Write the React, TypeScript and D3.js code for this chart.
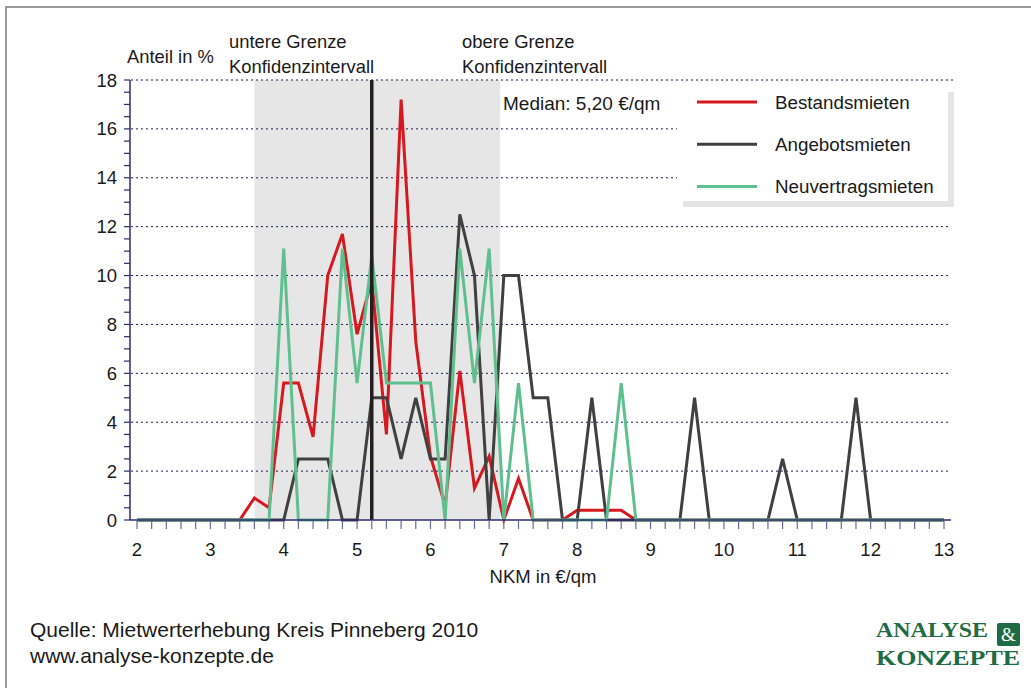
import React from "react";
import * as d3 from "d3";

// NKM-Klassen in 0,2 €-Schritten von 2 bis 13
const nkmSteps = d3.range(0, 56).map(i => +(2 + i * 0.2).toFixed(1));

// Anteil in % je Klasse
const bestandsmieten = [
  0, 0, 0, 0, 0, 0, 0, 0, 0.9, 0.5,
  5.6, 5.6, 3.4, 10.0, 11.7, 7.6, 9.8, 3.5, 17.2, 7.3,
  2.6, 0.6, 6.1, 1.3, 2.6, 0, 1.7, 0, 0, 0,
  0.4, 0.4, 0.4, 0.4, 0, 0, 0, 0, 0, 0,
  0, 0, 0, 0, 0, 0, 0, 0, 0, 0,
  0, 0, 0, 0, 0, 0
];
const angebotsmieten = [
  0, 0, 0, 0, 0, 0, 0, 0, 0, 0,
  0, 2.5, 2.5, 2.5, 0, 0, 5.0, 5.0, 2.5, 5.0,
  2.5, 2.5, 12.5, 10.0, 0, 10.0, 10.0, 5.0, 5.0, 0,
  0, 5.0, 0, 0, 0, 0, 0, 0, 5.0, 0,
  0, 0, 0, 0, 2.5, 0, 0, 0, 0, 5.0,
  0, 0, 0, 0, 0, 0
];
const neuvertragsmieten = [
  0, 0, 0, 0, 0, 0, 0, 0, 0, 0,
  11.1, 0, 0, 0, 11.1, 5.6, 10.8, 5.6, 5.6, 5.6,
  5.6, 0, 11.1, 5.6, 11.1, 0, 5.6, 0, 0, 0,
  0, 0, 0, 5.6, 0, 0, 0, 0, 0, 0,
  0, 0, 0, 0, 0, 0, 0, 0, 0, 0,
  0, 0, 0, 0, 0, 0
];

const seriesNames = ["Bestandsmieten", "Angebotsmieten", "Neuvertragsmieten"];
const seriesColors = ["#d7191f", "#404040", "#5fbf8f"];
const xTickLabels = d3.range(2, 14);
const yTickLabels = d3.range(0, 20, 2);

const median = 5.2;
const konfidenz = [3.6, 6.95];

const FONT = "'Liberation Sans', Arial, sans-serif";

export default function App() {
  const width = 1031;
  const height = 688;

  const x = d3.scaleLinear().domain([2, 13]).range([137, 944]);
  const y = d3.scaleLinear().domain([0, 18]).range([520, 80]);

  const line = d3
    .line<number>()
    .x((d, i) => x(nkmSteps[i]))
    .y(d => y(d));

  const allSeries = [bestandsmieten, angebotsmieten, neuvertragsmieten];
  const axisColor = "#2b2b6e";

  return (
    <svg
      width={width}
      height={height}
      style={{ position: "absolute", left: 0, top: 0, background: "#fff" }}
      fontFamily={FONT}
    >
      {/* Rahmen */}
      <path d={`M6,${height} L6,7 L${width},7`} fill="none" stroke="#9a9a9a" strokeWidth={2} />

      {/* Konfidenzintervall */}
      <rect
        x={x(konfidenz[0])}
        y={y(18)}
        width={x(konfidenz[1]) - x(konfidenz[0])}
        height={y(0) - y(18)}
        fill="#e5e6e5"
      />

      {/* Gitterlinien */}
      {yTickLabels.filter(v => v > 0).map(v => (
        <line
          key={"g" + v}
          x1={131}
          x2={v === 18 ? 955 : 950}
          y1={y(v)}
          y2={y(v)}
          stroke="#1b1b55"
          strokeWidth={1}
          strokeDasharray="2,3"
        />
      ))}

      {/* Legende */}
      <rect x={683} y={92} width={271} height={115} fill="#e4e4e4" />
      <rect x={677} y={86} width={271} height={115} fill="#fff" />

      {/* Linien */}
      {allSeries.map((s, k) => (
        <path
          key={seriesNames[k]}
          d={line(s) || ""}
          fill="none"
          stroke={seriesColors[k]}
          strokeWidth={3}
          strokeLinejoin="miter"
        />
      ))}

      {/* Median */}
      <line x1={x(median)} x2={x(median)} y1={y(18)} y2={y(0)} stroke="#231f20" strokeWidth={3.5} />

      {/* Achsen */}
      <line x1={130} x2={951} y1={y(0)} y2={y(0)} stroke={axisColor} strokeWidth={1.5} />
      <line x1={130} x2={130} y1={y(18)} y2={y(0)} stroke={axisColor} strokeWidth={1.5} />
      {nkmSteps.map(v => (
        <line key={"xt" + v} x1={x(v)} x2={x(v)} y1={y(0) + 1} y2={y(0) + 9} stroke="#6a6a9e" strokeWidth={1.2} />
      ))}
      {d3.range(0, 18.5, 0.5).map(v => (
        <line key={"yt" + v} x1={124} x2={130} y1={y(v)} y2={y(v)} stroke={axisColor} strokeWidth={1.2} />
      ))}
      {xTickLabels.map(v => (
        <text key={"xl" + v} x={x(v)} y={556} fontSize={18.5} textAnchor="middle" fill="#1a1a1a">
          {v}
        </text>
      ))}
      {yTickLabels.map(v => (
        <text key={"yl" + v} x={117} y={y(v) + 6.5} fontSize={18.5} textAnchor="end" fill="#1a1a1a">
          {v}
        </text>
      ))}
      <text x={543} y={583} fontSize={18.5} textAnchor="middle" fill="#1a1a1a">NKM in €/qm</text>

      {/* Beschriftungen oben */}
      <text x={127} y={63} fontSize={18.4} fill="#1a1a1a">Anteil in %</text>
      <text x={229} y={48} fontSize={18.4} fill="#1a1a1a">untere Grenze</text>
      <text x={229} y={73} fontSize={18.4} fill="#1a1a1a">Konfidenzintervall</text>
      <text x={462} y={48} fontSize={18.4} fill="#1a1a1a">obere Grenze</text>
      <text x={462} y={73} fontSize={18.4} fill="#1a1a1a">Konfidenzintervall</text>
      <text x={503} y={110} fontSize={19} fill="#1a1a1a">Median: 5,20 €/qm</text>

      {/* Legende Einträge */}
      {seriesNames.map((n, k) => (
        <g key={"lg" + n} transform={`translate(0, ${102 + k * 42.3})`}>
          <line x1={697} x2={757} y1={0} y2={0} stroke={seriesColors[k]} strokeWidth={3} />
          <text x={775} y={6.5} fontSize={18.8} fill="#1a1a1a">{n}</text>
        </g>
      ))}

      {/* Quelle */}
      <text x={30} y={637} fontSize={21} fill="#1a1a1a">Quelle: Mietwerterhebung Kreis Pinneberg 2010</text>
      <text x={30} y={663} fontSize={21} fill="#1a1a1a">www.analyse-konzepte.de</text>

      {/* Logo */}
      <g fontFamily="'Liberation Serif', 'DejaVu Serif', serif" fontWeight="bold" fill="#1e6b45">
        <text x={876} y={637} fontSize={21} textLength={112} lengthAdjust="spacingAndGlyphs">ANALYSE</text>
        <rect x={997} y={623} width={23} height={23} rx={2} fill="#1e6b45" />
        <text x={1008.5} y={641} fontSize={19} textAnchor="middle" fill="#fff" fontWeight="normal">&amp;</text>
        <text x={876} y={665} fontSize={21} textLength={144} lengthAdjust="spacingAndGlyphs">KONZEPTE</text>
      </g>
    </svg>
  );
}
